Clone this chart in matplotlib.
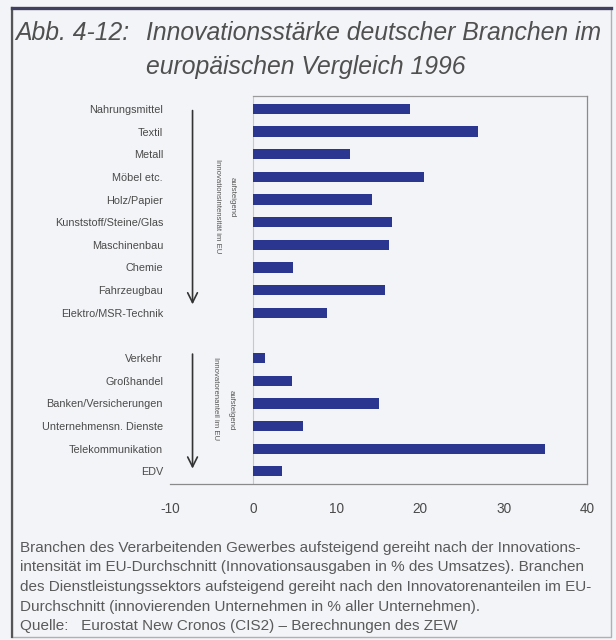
import matplotlib
matplotlib.use("Agg")
import matplotlib.pyplot as plt
from matplotlib.patches import Rectangle
from matplotlib.lines import Line2D

# Manufacturing sectors (sorted by innovation intensity) and service sectors
industry = ["Nahrungsmittel", "Textil", "Metall", "Möbel etc.", "Holz/Papier",
            "Kunststoff/Steine/Glas", "Maschinenbau", "Chemie", "Fahrzeugbau",
            "Elektro/MSR-Technik"]
industry_values = [18.8, 26.9, 11.6, 20.4, 14.2, 16.6, 16.2, 4.8, 15.8, 8.8]

services = ["Verkehr", "Großhandel", "Banken/Versicherungen",
            "Unternehmensn. Dienste", "Telekommunikation", "EDV"]
services_values = [1.4, 4.6, 15.1, 6.0, 35.0, 3.4]

x_ticks = [-10, 0, 10, 20, 30, 40]

title_prefix = "Abb. 4-12:"
title_lines = ["Innovationsstärke deutscher Branchen im", "europäischen Vergleich 1996"]
caption_lines = [
    "Branchen des Verarbeitenden Gewerbes aufsteigend gereiht nach der Innovations-",
    "intensität im EU-Durchschnitt (Innovationsausgaben in % des Umsatzes). Branchen",
    "des Dienstleistungssektors aufsteigend gereiht nach den Innovatorenanteilen im EU-",
    "Durchschnitt (innovierenden Unternehmen in % aller Unternehmen).",
    "Quelle:   Eurostat New Cronos (CIS2) – Berechnungen des ZEW",
]

BG = "#f3f4f7"
BAR = "#2b3690"
TXT = "#4a4a4a"

plt.rcParams["font.family"] = ["Liberation Sans", "DejaVu Sans"]

fig = plt.figure(figsize=(6.16, 6.4), dpi=100, facecolor=BG)
ax = fig.add_axes([0.276, 0.244, 0.677, 0.606])
ax.set_facecolor(BG)

# one empty slot separates the two groups
labels = industry + [""] + services
values = industry_values + [0] + services_values
positions = list(range(len(labels)))
bar_pos = [p for p, l in zip(positions, labels) if l]
bar_val = [v for v, l in zip(values, labels) if l]

ax.barh(bar_pos, bar_val, height=0.45, color=BAR, zorder=3)
ax.set_yticks(positions)
ax.set_yticklabels(labels, fontsize=7.8, color=TXT)
ax.set_ylim(16.55, -0.57)
ax.set_xlim(-10, 40)
ax.set_xticks(x_ticks)
ax.set_xticklabels([str(t) for t in x_ticks], fontsize=9.8, color=TXT)
ax.tick_params(axis="both", length=0)
ax.tick_params(axis="x", pad=13)
ax.tick_params(axis="y", pad=5)

for side in ["left", "top"]:
    ax.spines[side].set_visible(False)
for side in ["bottom", "right"]:
    ax.spines[side].set_color("#8a8a8a")
    ax.spines[side].set_linewidth(0.9)

# upper frame line over the value area and the zero line
ax.add_line(Line2D([0, 40], [-0.57, -0.57], color="#9a9a9a", lw=0.9, clip_on=False))
ax.axvline(0, color="#c8c8cc", lw=0.8, zorder=1)

# ranking arrows with their vertical notes
arrow_kw = dict(arrowstyle="->,head_width=0.35,head_length=0.7", color="#333333", lw=1.2)
ax.annotate("", xy=(-7.3, 8.75), xytext=(-7.3, -0.05), arrowprops=arrow_kw,
            annotation_clip=False)
ax.annotate("", xy=(-7.3, 16.0), xytext=(-7.3, 10.7), arrowprops=arrow_kw,
            annotation_clip=False)

note_kw = dict(rotation=270, fontsize=5.6, color="#555555", ha="center", va="center")
ax.text(-4.3, 4.3, "Innovationsintensität im EU", **note_kw)
ax.text(-2.5, 3.9, "aufsteigend", **note_kw)
ax.text(-4.5, 12.8, "Innovatorenanteil im EU", **note_kw)
ax.text(-2.7, 13.3, "aufsteigend", **note_kw)

# title
title_kw = dict(fontsize=17.8, style="italic", color="#505050", va="center", ha="left")
fig.text(15 / 616, 1 - 33 / 640, title_prefix, **title_kw)
fig.text(146 / 616, 1 - 33 / 640, title_lines[0], **title_kw)
fig.text(146 / 616, 1 - 67 / 640, title_lines[1], **title_kw)

# caption
for i, line in enumerate(caption_lines):
    fig.text(20 / 616, 1 - (548 + i * 19.5) / 640, line, fontsize=11.0,
             color="#5a5a5a", va="center", ha="left")

# page frame
fig.add_artist(Rectangle((12 / 616, 1 - 637 / 640), 599 / 616, 629 / 640,
                         transform=fig.transFigure, fill=False,
                         edgecolor="#b0b0b4", lw=1.0))
fig.add_artist(Line2D([12 / 616, 12 / 616], [1 - 637 / 640, 1 - 8 / 640],
                      transform=fig.transFigure, color="#555555", lw=1.6))
fig.add_artist(Line2D([12 / 616, 611 / 616], [1 - 8 / 640, 1 - 8 / 640],
                      transform=fig.transFigure, color="#3f4060", lw=2.4))

fig.savefig("out.png", dpi=100, facecolor=BG)
